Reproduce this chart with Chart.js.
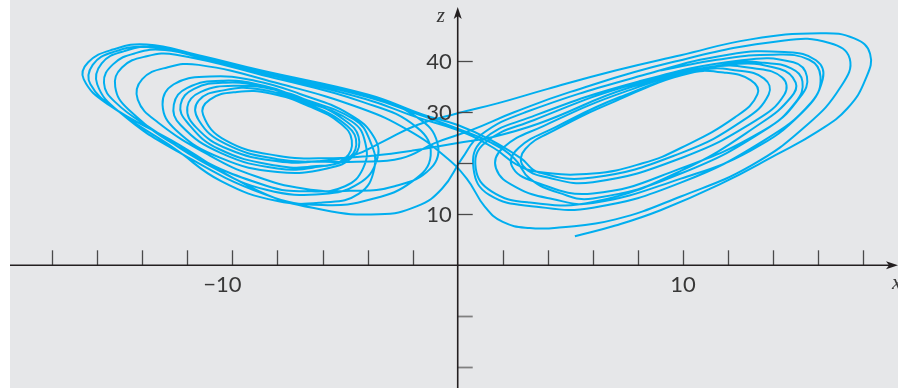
<!DOCTYPE html>
<html>
<head>
<meta charset="utf-8">
<script src="https://cdn.jsdelivr.net/npm/chart.js"></script>
<style>
  html, body { margin: 0; padding: 0; background: #ffffff; }
  #wrap { width: 898px; height: 388px; position: relative; }
</style>
</head>
<body>
<div id="wrap"><canvas id="c"></canvas></div>
<script>
// Trajectory (x, z), one array per visit to a wing
const visit1 = [[5.2,5.7],[7,7.8],[9,10.8],[11.6,15.8],[14.1,21.6],[16,26.3],[17.3,30.8],[18.1,36.5],[18.3,41.5],[17.6,44.5],[16.1,45.5],[13,44.3],[9.9,41.2],[7,38.2],[4,34.6],[1.8,31.8],[0,29.8],[-1.8,27.5],[-3.3,24.3]];
const visit2 = [[-4.6,21.6],[-6.2,20.4],[-8,20.4],[-10.2,22.8],[-11.6,27],[-12,31],[-11.4,34],[-9.8,35.2],[-8,34.3],[-6.4,31.8],[-5,28.4],[-4.4,25.2],[-4.6,21.5],[-5.8,19],[-8,18.3],
  [-10.5,21],[-12.5,26.5],[-13.1,31.5],[-12.6,35.5],[-11,37],[-9,36.2],[-7,33.6],[-4.8,29.6],[-3.7,25],[-3.6,20.5],[-4.4,16],[-6,14],[-8.5,14.8],
  [-11,19.5],[-13.5,26.5],[-15.2,32],[-15.7,35.8],[-15.3,39.4],[-14.3,41.6],[-13,42.2],[-11,40.2],[-8.6,37.6],[-4.1,32.6],[-1.8,29],[0,26.5],[1.6,23],[2.6,19.8]];
const visit3 = [[3.6,18.3],[6,18],[8.2,20],[9.9,23],[12.3,29],[13.3,33.5],[13,36.3],[11.8,37.8],[10.2,37.6],[7,32.2],[4.3,26.5],[3,22.8],[2.9,19.5],[4,17.2],
  [6,16.3],[9.9,21],[13.2,28.3],[14.5,33.5],[14.4,36.8],[13.2,38.6],[11.2,38.8],[7.4,34],[3.8,27.3],[2,23],[1.7,19],[2.6,15.3],[4.2,13],
  [6,12.2],[9.9,17],[13,22.5],[15.3,30],[16.2,36.5],[15.9,40.2],[14.5,41.8],[12,41.3],[8.4,37.5],[3,30],[1,25.5],[0.2,21],[-0.7,15],[-1.8,11.6],[-3.5,10]];
const visit4 = [[-6,10.9],[-8.8,14.5],[-12.7,24.5],[-15.5,31.5],[-16.6,36.5],[-16.4,39.8],[-15.3,42.3],[-13.8,43.3],[-11.5,41.2],[-8.8,38.3],[-4,33.5],[-1.5,29.5],[0,27.5],[1.5,24.5],[2.8,21]];
const visit5 = [[3.6,18.2],[6,17.2],[9.9,22],[12.7,28.5],[13.8,33.5],[13.6,36.6],[12.4,38.2],[10.8,38.2],[7.2,33],[4.3,27],[2.7,23],[2.4,19.5],[3.4,16.4],
  [6,14.1],[9.9,19],[13.6,26.5],[15,32],[15.3,36],[14.8,38.6],[13.6,39.7],[12.3,39.7],[7.8,35.5],[3.4,28.5],[1.2,24],[0.8,19],[1.5,14.5],[3.2,12.3],
  [6,12.4],[9.9,18.5],[13.5,28],[14.8,33],[15,35.8],[14.3,38.5],[12,39.3],[7.6,34.8],[3.6,27.8],[1.4,25],[0,24],[-2,22.5],[-3.8,21.5]];
const visit6 = [[-5.5,21],[-8,21.5],[-10.3,24.5],[-11.3,29.5],[-11,32.5],[-9.8,34],[-8.3,33.7],[-6.5,31],[-5.2,27.8],[-4.7,24.5],[-5,21],[-6.2,19.3],[-8,19],
  [-10.5,22],[-12.3,27.5],[-12.6,31.5],[-12,34.8],[-10.4,36.2],[-8.6,35.2],[-7.1,33],[-4.6,28.6],[-3.9,24.5],[-3.7,19],[-4.4,14],[-6,12.3],[-8,12.6],
  [-10.5,16.5],[-12.6,23],[-15,30],[-16.3,35.5],[-16.2,39.3],[-15.3,41.8],[-13.8,42.8],[-11.3,40.8],[-8.8,38.1],[-4,33.3],[-1.8,29],[-0.9,24],[-1.2,19],[-2.8,15.5],[-4.8,14.6],[-6.8,15],
  [-9,17.5],[-11,21.5],[-13.3,28],[-14.2,32.5],[-14,36.5],[-12.9,38.8],[-11.5,39.3],[-7.9,35.6],[-4.3,30.8],[-2.2,26.5],[-0.6,21.5],[0.4,17],[1.2,11.5],[2,8.5],[3.2,7.3],[4.5,7.4]];
const visit7 = [[7,9],[9.9,13.5],[13,19.5],[15.5,27.5],[17,35],[17.4,40.5],[16.5,43.6],[14.5,44.1],[9.5,39.8],[5,34],[2.5,30],[0.6,26.5],[-1,24],[-2.5,21]];
const visit8 = [[-4.5,20.3],[-6,20.3],[-8,20.8],[-10.3,23.8],[-11.5,28.5],[-11.5,32.3],[-10.4,34.3],[-8.8,34.5],[-6.6,31.5],[-4.9,27.3],[-4.5,23.6],[-5,20.6],[-6.4,19.4],[-8,19.5],
  [-10.6,22.8],[-12,28],[-12.3,31.5],[-11.7,34.6],[-10.3,35.8],[-8.6,35],[-7,32.5],[-4.7,28.2],[-4.1,24],[-4.2,19],[-5,15.5],[-6.5,14.5],[-8.5,15.6],
  [-12.1,22.5],[-14.6,30.5],[-15.2,35],[-14.9,38.8],[-13.8,41],[-12.5,41.3],[-8.4,37],[-4.2,32],[-1.8,27],[-1.2,21.5],[-2,16.5],[-3.8,13],[-6,11.8],[-8.5,13.8],
  [-12.5,22.5],[-15,30],[-16,35.5],[-15.8,39.6],[-14.8,42],[-13.4,42.8],[-11,40.5],[-8.7,37.9],[-4,33],[-1.7,29.5],[0,26.8],[1.5,24],[2.5,21]];
const visit9 = [[3.2,17],[4.5,14.2],[6,13.1],[9.9,18],[13.8,27],[15.2,33],[15.5,37],[14.9,39.8],[12.6,40.2],[8,36],[3.2,29],[1.1,24.5],[0.7,19],[1.4,13.8],[3.5,11.5],[6,11.3],
  [9.9,16.2],[13.6,24.5],[15.7,32],[16.1,37],[15.6,40.3],[14,41.3],[11.5,40.3],[9,38.2]];

// Axis ticks and labels
const xTickValues = [-18,-16,-14,-12,-10,-8,-6,-4,-2,2,4,6,8,10,12,14,16,18];
const xTickLabels = [[-10,'\u221210'],[10,'10']];
const zTickValues = [10,20,30,40];
const zNegTickValues = [-10,-20];
const zTickLabels = [[10,'10'],[30,'30'],[40,'40']];

const visits = [visit1,visit2,visit3,visit4,visit5,visit6,visit7,visit8,visit9];
const points = [];
visits.forEach(v => v.forEach(p => points.push({x: p[0], y: p[1]})));

const axesPlugin = {
  id: 'axesPlugin',
  beforeDraw(chart) {
    const {ctx, chartArea: a} = chart;
    ctx.save();
    ctx.fillStyle = '#e6e7e9';
    ctx.fillRect(a.left, a.top, a.right - a.left, a.bottom - a.top);
    ctx.restore();
  },
  afterDatasetsDraw(chart) {
    const {ctx, chartArea: a, scales} = chart;
    const xs = scales.x, ys = scales.y;
    const x0 = xs.getPixelForValue(0), y0 = ys.getPixelForValue(0);
    ctx.save();
    ctx.strokeStyle = '#4a4a4a';
    ctx.lineWidth = 1.3;
    xTickValues.forEach(v => {
      const px = Math.round(xs.getPixelForValue(v)) + 0.5;
      ctx.beginPath(); ctx.moveTo(px, y0); ctx.lineTo(px, y0 - 15); ctx.stroke();
    });
    zTickValues.forEach(v => {
      const py = Math.round(ys.getPixelForValue(v)) + 0.5;
      ctx.beginPath(); ctx.moveTo(x0, py); ctx.lineTo(x0 + 15, py); ctx.stroke();
    });
    ctx.strokeStyle = '#808080';
    ctx.lineWidth = 1.8;
    zNegTickValues.forEach(v => {
      const py = Math.round(ys.getPixelForValue(v)) + 0.5;
      ctx.beginPath(); ctx.moveTo(x0, py); ctx.lineTo(x0 + 15, py); ctx.stroke();
    });
    ctx.strokeStyle = '#231f20';
    ctx.fillStyle = '#231f20';
    ctx.lineWidth = 1.6;
    ctx.beginPath(); ctx.moveTo(a.left, y0); ctx.lineTo(a.right - 8, y0); ctx.stroke();
    ctx.beginPath(); ctx.moveTo(x0, a.bottom); ctx.lineTo(x0, a.top + 16); ctx.stroke();
    ctx.beginPath();
    ctx.moveTo(a.right, y0); ctx.lineTo(a.right - 12, y0 - 4); ctx.lineTo(a.right - 9, y0); ctx.lineTo(a.right - 12, y0 + 4); ctx.closePath(); ctx.fill();
    ctx.beginPath();
    ctx.moveTo(x0, a.top + 7); ctx.lineTo(x0 - 4, a.top + 19); ctx.lineTo(x0, a.top + 16); ctx.lineTo(x0 + 4, a.top + 19); ctx.closePath(); ctx.fill();
    ctx.fillStyle = '#383838';
    ctx.font = '400 22px Lato, "Open Sans", sans-serif';
    ctx.textAlign = 'center';
    ctx.textBaseline = 'middle';
    xTickLabels.forEach(([v, t]) => {
      let px = xs.getPixelForValue(v);
      if (v < 0) px -= 10;
      ctx.fillText(t, px, y0 + 20);
    });
    ctx.textAlign = 'right';
    zTickLabels.forEach(([v, t]) => {
      ctx.fillText(t, x0 - 6, ys.getPixelForValue(v) + 1);
    });
    ctx.font = 'italic 21px "Liberation Serif", "DejaVu Serif", serif';
    ctx.textAlign = 'center';
    ctx.textBaseline = 'alphabetic';
    ctx.fillText('z', x0 - 17, a.top + 22);
    ctx.textAlign = 'left';
    ctx.fillText('x', a.right - 6, y0 + 24);
    ctx.restore();
  }
};

new Chart(document.getElementById('c'), {
  type: 'scatter',
  data: {
    datasets: [{
      data: points,
      showLine: true,
      borderColor: '#00aeef',
      borderWidth: 2,
      pointRadius: 0,
      pointHoverRadius: 0,
      tension: 0.45,
      fill: false
    }]
  },
  options: {
    responsive: true,
    maintainAspectRatio: false,
    animation: false,
    devicePixelRatio: 1,
    layout: { padding: { left: 10, right: 0, top: 0, bottom: 0 } },
    plugins: { legend: { display: false }, tooltip: { enabled: false } },
    scales: {
      x: { type: 'linear', display: false, min: -19.87, max: 19.54 },
      y: { type: 'linear', display: false, min: -24.06, max: 52.02 }
    }
  },
  plugins: [axesPlugin]
});
</script>
</body>
</html>
